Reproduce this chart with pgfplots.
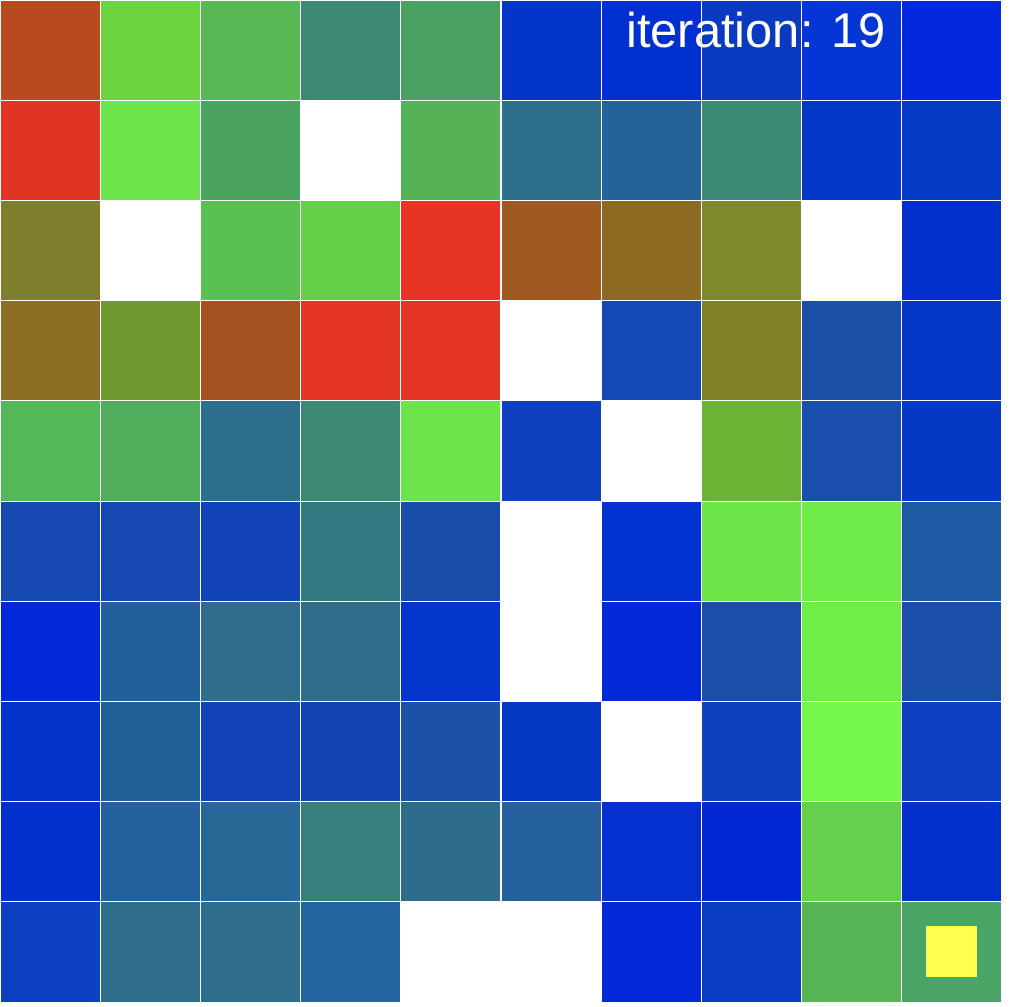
\documentclass[border=0pt]{standalone}
\usepackage{pgfplots}
\pgfplotsset{compat=1.18}
\usepackage{pgfplotstable}
\usepackage{fontspec}
\setmainfont{Liberation Sans}
\definecolor{marker}{RGB}{255,255,80}

% cell colours, row by row from the top
\pgfplotstableread{
x y c
0 0 rgb255=184,74,32
1 0 rgb255=108,212,62
2 0 rgb255=88,184,85
3 0 rgb255=62,136,118
4 0 rgb255=74,160,96
5 0 rgb255=3,53,200
6 0 rgb255=0,48,208
7 0 rgb255=10,58,192
8 0 rgb255=5,53,213
9 0 rgb255=2,40,224
0 1 rgb255=224,53,37
1 1 rgb255=108,230,74
2 1 rgb255=74,163,95
3 1 rgb255=255,255,255
4 1 rgb255=85,178,87
5 1 rgb255=46,112,140
6 1 rgb255=36,98,156
7 1 rgb255=61,139,118
8 1 rgb255=5,56,200
9 1 rgb255=4,58,197
0 2 rgb255=126,126,44
1 2 rgb255=255,255,255
2 2 rgb255=91,192,82
3 2 rgb255=100,208,74
4 2 rgb255=232,52,37
5 2 rgb255=160,90,32
6 2 rgb255=141,106,34
7 2 rgb255=126,136,44
8 2 rgb255=255,255,255
9 2 rgb255=3,48,204
0 3 rgb255=141,110,37
1 3 rgb255=110,154,48
2 3 rgb255=164,82,31
3 3 rgb255=228,53,38
4 3 rgb255=228,53,38
5 3 rgb255=255,255,255
6 3 rgb255=20,72,184
7 3 rgb255=128,130,40
8 3 rgb255=26,80,168
9 3 rgb255=5,56,198
0 4 rgb255=85,184,88
1 4 rgb255=79,173,92
2 4 rgb255=45,110,140
3 4 rgb255=62,136,118
4 4 rgb255=108,228,74
5 4 rgb255=14,64,192
6 4 rgb255=255,255,255
7 4 rgb255=108,180,53
8 4 rgb255=26,78,172
9 4 rgb255=5,56,197
0 5 rgb255=22,72,178
1 5 rgb255=22,72,178
2 5 rgb255=18,68,184
3 5 rgb255=53,122,130
4 5 rgb255=26,76,170
5 5 rgb255=255,255,255
6 5 rgb255=2,50,210
7 5 rgb255=108,228,74
8 5 rgb255=112,236,74
9 5 rgb255=30,90,164
0 6 rgb255=2,40,216
1 6 rgb255=33,96,156
2 6 rgb255=46,110,140
3 6 rgb255=47,110,138
4 6 rgb255=4,53,204
5 6 rgb255=255,255,255
6 6 rgb255=2,40,216
7 6 rgb255=26,78,170
8 6 rgb255=112,238,72
9 6 rgb255=26,80,170
0 7 rgb255=4,51,204
1 7 rgb255=34,96,152
2 7 rgb255=18,66,182
3 7 rgb255=18,68,182
4 7 rgb255=28,82,166
5 7 rgb255=5,56,196
6 7 rgb255=255,255,255
7 7 rgb255=14,64,190
8 7 rgb255=118,248,74
9 7 rgb255=12,64,192
0 8 rgb255=3,48,204
1 8 rgb255=36,98,158
2 8 rgb255=39,104,150
3 8 rgb255=57,126,126
4 8 rgb255=46,108,140
5 8 rgb255=35,96,156
6 8 rgb255=4,48,208
7 8 rgb255=2,40,212
8 8 rgb255=100,208,76
9 8 rgb255=3,48,204
0 9 rgb255=12,64,192
1 9 rgb255=46,110,140
2 9 rgb255=46,110,140
3 9 rgb255=36,100,160
4 9 rgb255=255,255,255
5 9 rgb255=255,255,255
6 9 rgb255=2,40,216
7 9 rgb255=10,60,194
8 9 rgb255=85,181,85
9 9 rgb255=72,165,101
}\cells

\begin{document}
\begin{tikzpicture}
\path (0,0) rectangle (10.14cm,-10.06cm);
\begin{axis}[
    at={(0,0)}, anchor=north west,
    scale only axis,
    width=10.02cm, height=10.02cm,
    xmin=-0.5, xmax=9.5,
    ymin=-0.5, ymax=9.5,
    y dir=reverse,
    hide axis,
    clip=false,
]
\addplot[matrix plot*, mesh/cols=10, mesh/ordering=x varies,
    mesh/color input=explicit, point meta=explicit symbolic,
    shader=faceted, faceted color=white, line width=0.3pt]
    table[meta=c] {\cells};
\addplot[only marks, color=marker, mark=square*, mark size=0.25cm,
    mark options={fill=marker, draw=marker, line width=0pt}] coordinates {(9,9)};
\node[anchor=base east, text=white, inner sep=0pt,
    font=\fontsize{13.9}{16}\selectfont] at (axis cs:8.35,-0.03) {iteration: 19};
\end{axis}
\end{tikzpicture}
\end{document}
